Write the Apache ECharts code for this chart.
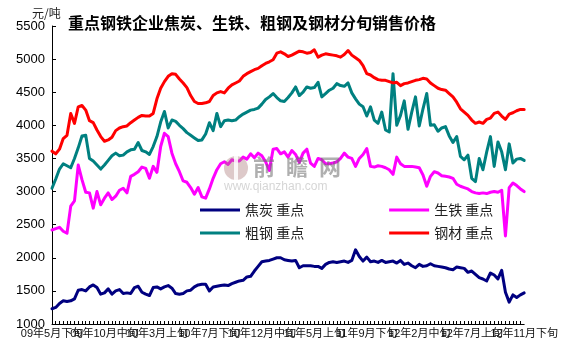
<!DOCTYPE html>
<html>
<head>
<meta charset="utf-8">
<script src="https://cdn.jsdelivr.net/npm/echarts@6/dist/echarts.min.js"></script>
<style>
  html, body { margin: 0; padding: 0; background: #fff; }
  #chart { width: 561px; height: 354px; }
</style>
</head>
<body>
<div id="chart"></div>
<script>
// 分旬类目：09年5月下旬 ~ 12年11月下旬
const xunNames = ['上旬', '中旬', '下旬'];
const categories = [];
let yr = 2009, mo = 5, xun = 2;
for (let k = 0; k < 127; k++) {
  categories.push(String(yr).slice(2) + '年' + mo + '月' + xunNames[xun]);
  xun++;
  if (xun > 2) { xun = 0; mo++; if (mo > 12) { mo = 1; yr++; } }
}

const yTicks = [1000, 1500, 2000, 2500, 3000, 3500, 4000, 4500, 5000, 5500];

// 焦炭 重点
const coke = [
  1230,1250,1310,1350,1340,1350,1380,1510,1520,1500,
  1560,1590,1550,1450,1470,1530,1450,1500,1520,1460,
  1470,1460,1550,1570,1480,1450,1430,1550,1560,1530,
  1560,1580,1540,1460,1450,1460,1500,1510,1560,1590,
  1600,1600,1500,1560,1570,1580,1590,1580,1610,1630,
  1650,1660,1710,1720,1800,1870,1940,1950,1960,1980,
  2000,2000,1970,1960,1950,1960,1850,1880,1880,1880,
  1870,1870,1840,1900,1930,1940,1930,1940,1950,1930,
  1960,2120,2020,1950,2010,1940,1950,1930,1960,1930,
  1940,1950,1920,1960,1900,1920,1880,1850,1900,1870,
  1880,1910,1880,1870,1860,1850,1830,1820,1860,1850,
  1840,1780,1800,1750,1700,1680,1650,1770,1740,1680,
  1810,1480,1330,1440,1400,1440,1470
];
// 生铁 重点
const pigIron = [
  2420,2440,2460,2400,2370,2780,2860,3400,3180,2990,
  2980,2750,3000,2800,2900,2980,2880,2930,3020,3050,
  2980,3230,3260,3300,3370,3350,3200,3380,3290,3680,
  3880,3830,3580,3420,3300,3160,3140,3060,2960,3060,
  2920,2900,3040,3200,3330,3420,3450,3410,3480,3460,
  3460,3520,3490,3570,3510,3580,3540,3450,3320,3640,
  3650,3570,3600,3520,3620,3560,3440,3580,3640,3430,
  3380,3500,3480,3420,3420,3430,3450,3500,3580,3520,
  3500,3380,3500,3560,3650,3380,3370,3390,3380,3360,
  3330,3260,3520,3420,3380,3380,3380,3370,3360,3250,
  3080,3230,3300,3280,3240,3230,3220,3200,3110,3080,
  3060,3040,3000,2980,2970,2980,2970,2990,3000,2990,
  3020,2330,3060,3130,3090,3040,3000
];
// 粗钢 重点
const crudeSteel = [
  3050,3190,3340,3420,3390,3360,3500,3660,3840,3850,
  3500,3460,3400,3340,3400,3470,3540,3580,3540,3550,
  3600,3630,3640,3740,3620,3600,3560,3680,3830,4050,
  4210,3960,4080,4060,4000,3950,3890,3850,3810,3770,
  3780,3870,4040,3920,4180,3980,4070,4080,4070,4080,
  4130,4170,4200,4230,4240,4260,4320,4390,4430,4480,
  4420,4370,4360,4420,4490,4580,4450,4500,4580,4560,
  4570,4650,4430,4480,4530,4560,4630,4600,4590,4640,
  4490,4400,4320,4280,4140,4280,4080,4030,4200,3930,
  3900,4780,4000,4150,4370,3940,4200,4430,3990,4250,
  4480,4000,4010,3910,3960,3980,3840,3740,3830,3530,
  3480,3550,3200,3150,3500,3330,3600,3830,3380,3750,
  3600,3330,3720,3430,3490,3500,3470
];
// 钢材 重点
const steel = [
  3610,3570,3640,3800,3850,4180,4030,4280,4300,4230,
  4070,4040,3930,3830,3760,3780,3820,3920,3960,3980,
  3990,4040,4080,4120,4150,4140,4140,4180,4400,4560,
  4660,4740,4780,4770,4700,4640,4570,4450,4360,4330,
  4330,4340,4360,4450,4490,4510,4490,4560,4610,4640,
  4670,4740,4780,4810,4840,4860,4900,4935,4960,4990,
  5090,5110,5080,5040,5060,5090,5120,5110,5090,5100,
  5140,5030,5060,5080,5070,5060,5050,5030,5070,5130,
  5060,5020,4980,4900,4780,4760,4720,4690,4680,4680,
  4660,4640,4650,4600,4630,4640,4660,4680,4690,4710,
  4700,4640,4600,4560,4540,4530,4480,4430,4350,4250,
  4200,4150,4080,4030,4050,4030,4090,4110,4180,4200,
  4140,4090,4170,4190,4220,4240,4240
];

const cjk = "'Noto Sans CJK SC', sans-serif";
const latin = "'Liberation Sans', Arial, 'Noto Sans CJK SC', sans-serif";

const myChart = echarts.init(document.getElementById('chart'), null, { renderer: 'canvas' });

function makeLine(name, data, color) {
  return {
    name: name,
    type: 'line',
    data: data,
    xAxisIndex: 0,
    symbol: 'none',
    smooth: false,
    lineStyle: { width: 3, color: color, join: 'round', cap: 'round' },
    itemStyle: { color: color }
  };
}

const legendText = { fontFamily: cjk, fontSize: 14, color: '#222' };
const xLabelStyle = { margin: 4, hideOverlap: false, fontFamily: latin, fontSize: 11, color: '#111' };

myChart.setOption({
  animation: false,
  backgroundColor: '#fff',
  title: [
    {
      text: '重点钢铁企业焦炭、生铁、粗钢及钢材分旬销售价格',
      left: 68,
      top: 15,
      padding: 0,
      textStyle: { fontFamily: cjk, fontSize: 16, fontWeight: 'bold', color: '#000' }
    },
    {
      text: '元/吨',
      left: 32,
      top: 7,
      padding: 0,
      textStyle: { fontFamily: cjk, fontSize: 12, fontWeight: 'normal', color: '#222' }
    }
  ],
  legend: [
    {
      data: ['焦炭 重点', '生铁 重点'],
      left: 200,
      top: 203,
      padding: 0,
      icon: 'rect',
      itemWidth: 40,
      itemHeight: 3,
      itemGap: 85,
      selectedMode: false,
      textStyle: legendText
    },
    {
      data: ['粗钢 重点', '钢材 重点'],
      left: 200,
      top: 226,
      padding: 0,
      icon: 'rect',
      itemWidth: 40,
      itemHeight: 3,
      itemGap: 85,
      selectedMode: false,
      textStyle: legendText
    }
  ],
  grid: { left: 52, right: 16, top: 26, bottom: 30, containLabel: false },
  xAxis: [
    {
      // 主轴：中间各标签
      type: 'category',
      data: categories,
      boundaryGap: false,
      position: 'bottom',
      axisLine: { lineStyle: { color: '#000', width: 1 } },
      axisTick: { show: true, inside: true, length: 3, interval: 0, lineStyle: { color: '#000' } },
      axisLabel: Object.assign({ interval: 13, showMinLabel: false, showMaxLabel: false }, xLabelStyle),
      splitLine: { show: false }
    },
    {
      // 首尾两个标签（与中间标签重叠也照常显示）
      type: 'category',
      data: categories,
      boundaryGap: false,
      position: 'bottom',
      offset: 0,
      axisLine: { show: false },
      axisTick: { show: false },
      axisLabel: Object.assign({
        interval: function (idx) { return idx === 0 || idx === categories.length - 1; },
        showMinLabel: true,
        showMaxLabel: true
      }, xLabelStyle),
      splitLine: { show: false }
    }
  ],
  yAxis: {
    type: 'value',
    min: yTicks[0],
    max: yTicks[yTicks.length - 1],
    interval: 500,
    axisLine: { show: true, lineStyle: { color: '#000', width: 1 } },
    axisTick: { show: true, inside: true, length: 4, lineStyle: { color: '#000' } },
    axisLabel: {
      margin: 7,
      fontFamily: latin,
      fontSize: 13,
      color: '#000',
      formatter: function (v) { return String(v); }
    },
    splitLine: { show: false }
  },
  series: [
    makeLine('焦炭 重点', coke, '#000080'),
    makeLine('生铁 重点', pigIron, '#ff00ff'),
    makeLine('粗钢 重点', crudeSteel, '#008080'),
    makeLine('钢材 重点', steel, '#ff0000')
  ],
  // 水印
  graphic: [
    { type: 'circle', z: 100, shape: { cx: 236, cy: 168, r: 12 }, style: { fill: 'rgba(170,120,120,0.4)' } },
    { type: 'rect', z: 101, shape: { x: 234, y: 155, width: 4, height: 26 }, style: { fill: 'rgba(255,255,255,0.85)' } },
    { type: 'text', z: 100, left: 253, top: 156, style: { text: '前', font: "bold 22px 'Noto Sans CJK SC'", fill: 'rgba(110,110,110,0.55)' } },
    { type: 'text', z: 100, left: 286, top: 156, style: { text: '瞻', font: "bold 22px 'Noto Sans CJK SC'", fill: 'rgba(110,110,110,0.55)' } },
    { type: 'text', z: 100, left: 319, top: 156, style: { text: '网', font: "bold 22px 'Noto Sans CJK SC'", fill: 'rgba(110,110,110,0.55)' } },
    { type: 'text', z: 100, left: 224, top: 181, style: { text: 'www.qianzhan.com', font: "12px 'Liberation Sans'", fill: 'rgba(150,150,150,0.4)' } }
  ]
});
</script>
</body>
</html>
